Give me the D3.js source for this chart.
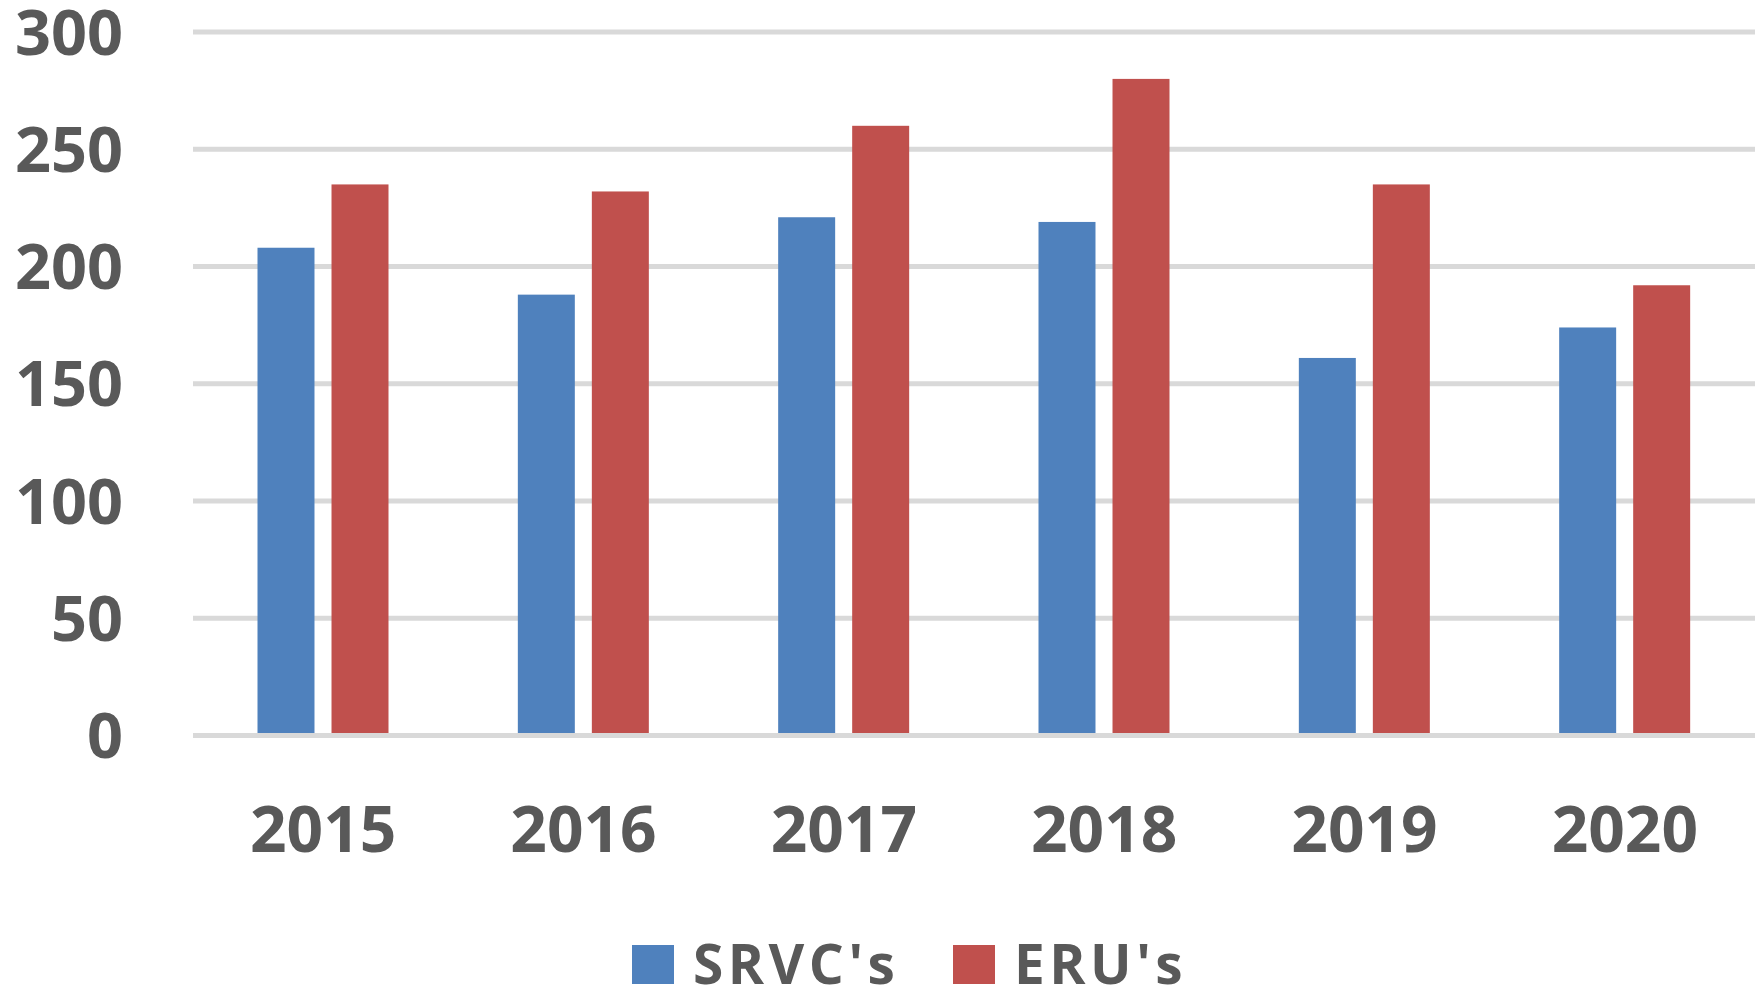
<!DOCTYPE html>
<html>
<head>
<meta charset="utf-8">
<script src="https://cdn.jsdelivr.net/npm/d3@7"></script>
<style>
  body { margin: 0; background: #fff; }
  text { font-family: "Open Sans", sans-serif; font-weight: bold; fill: #595959; }
</style>
</head>
<body>
<script>
// data
var years = ["2015", "2016", "2017", "2018", "2019", "2020"];
var seriesNames = ["SRVC's", "ERU's"];
var srvcValues = [208, 188, 221, 219, 161, 174];
var eruValues = [235, 232, 260, 280, 235, 192];
var yTicks = [0, 50, 100, 150, 200, 250, 300];
var seriesColors = ["#4F81BD", "#C0504D"];

var rows = years.map(function (y, i) {
  return { year: y, values: [srvcValues[i], eruValues[i]] };
});

var svg = d3.select("body").append("svg")
  .attr("width", 1760)
  .attr("height", 993);

// scales
var x0 = d3.scaleBand().domain(years).range([193, 1755]).padding(0);
var x1 = d3.scaleBand().domain(seriesNames)
  .range([64.5, 195.5])
  .paddingInner(0.23)
  .paddingOuter(0);
var y = d3.scaleLinear().domain([0, 300]).range([735.5, 32]);

// gridlines
svg.append("g").selectAll("line")
  .data(yTicks)
  .enter()
  .append("line")
  .attr("x1", 193)
  .attr("x2", 1755)
  .attr("y1", function (d) { return y(d); })
  .attr("y2", function (d) { return y(d); })
  .attr("stroke", "#d9d9d9")
  .attr("stroke-width", 5);

// y labels
svg.append("g").selectAll("text")
  .data(yTicks)
  .enter()
  .append("text")
  .attr("x", 123)
  .attr("y", function (d) { return y(d); })
  .attr("dy", "0.36em")
  .attr("text-anchor", "end")
  .style("font-size", "63px")
  .text(function (d) { return d; });

// bars
var groups = svg.append("g").selectAll("g")
  .data(rows)
  .enter()
  .append("g")
  .attr("transform", function (d) { return "translate(" + x0(d.year) + ",0)"; });

groups.selectAll("rect")
  .data(function (d) { return d.values.map(function (v, i) { return { name: seriesNames[i], value: v, i: i }; }); })
  .enter()
  .append("rect")
  .attr("x", function (d) { return x1(d.name); })
  .attr("width", x1.bandwidth())
  .attr("y", function (d) { return y(d.value); })
  .attr("height", function (d) { return y(0) - 2.5 - y(d.value); })
  .attr("fill", function (d) { return seriesColors[d.i]; });

// x labels
svg.append("g").selectAll("text")
  .data(years)
  .enter()
  .append("text")
  .attr("x", function (d) { return x0(d) + x0.bandwidth() / 2; })
  .attr("y", 852)
  .attr("text-anchor", "middle")
  .style("font-size", "64px")
  .text(function (d) { return d; });

// legend
var legendX = [632, 953];
var legend = svg.append("g").selectAll("g")
  .data(seriesNames)
  .enter()
  .append("g")
  .attr("transform", function (d, i) { return "translate(" + legendX[i] + ",945)"; });

legend.append("rect")
  .attr("width", 42)
  .attr("height", 39)
  .attr("fill", function (d, i) { return seriesColors[i]; });

legend.append("text")
  .attr("x", 61)
  .attr("y", 39)
  .style("font-size", "55px")
  .style("letter-spacing", "4.5px")
  .text(function (d) { return d; });
</script>
</body>
</html>
